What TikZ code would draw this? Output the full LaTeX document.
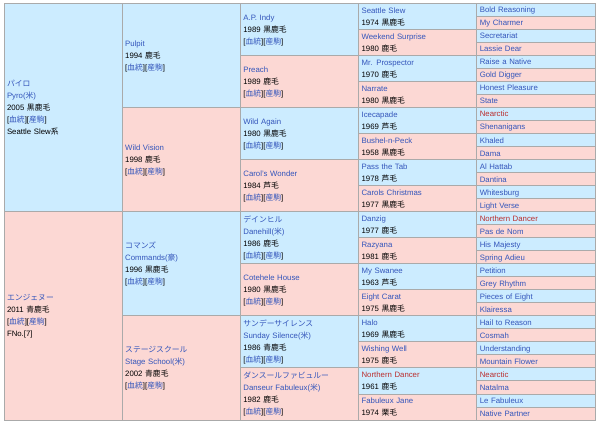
\documentclass[tikz,border=0pt]{standalone}
\usepackage{fontspec}
\setmainfont{Liberation Sans}
\newfontfamily\jpfont{Noto Sans CJK JP}
\usepackage{xcolor}
\usepackage{tikz}
\usetikzlibrary{positioning}

\definecolor{pedblue}{HTML}{CCECFF}
\definecolor{pedpink}{HTML}{FCD8D4}
\definecolor{gridgray}{HTML}{AAAAAA}
\definecolor{linkblue}{HTML}{3355BB}
\definecolor{linkred}{HTML}{BA2D2D}

\newcommand{\lk}[1]{\textcolor{linkblue}{#1}}
\newcommand{\nl}[1]{\textcolor{linkred}{#1}}
\newcommand{\jp}[1]{{\jpfont #1}}
\newcommand{\pedlinks}{[\lk{\jp{血統}}][\lk{\jp{産駒}}]}
\newcommand{\cellstrut}{\rule[-3pt]{0pt}{12pt}}

\begin{document}
\begin{tikzpicture}[
    x=1pt, y=-1pt,
    cell/.style={rectangle, draw=gridgray, line width=0.8pt, inner xsep=3pt, inner ysep=0pt, outer sep=0pt, text width=112.2pt, align=left, font=\fontsize{7.8}{12}\selectfont, execute at begin node=\cellstrut, execute at end node=\cellstrut},
    sire/.style={cell, fill=pedblue},
    dam/.style={cell, fill=pedpink},
    g1/.style={minimum height=208.32pt},
    g2/.style={minimum height=104.16pt},
    g3/.style={minimum height=52.08pt},
    g4/.style={minimum height=26.04pt},
    g5/.style={minimum height=13.02pt}
]
    \useasboundingbox (0,0) rectangle (600,424);
    \fill[white] (0,0) rectangle (600,424);

    % Generation 1
    \node[sire, g1, anchor=north west] (pyro) at (4,3.3) {\lk{\jp{パイロ}}\\\lk{Pyro(\jp{米})}\\2005 \jp{黒鹿毛}\\\pedlinks\\Seattle Slew\jp{系}};
    \node[dam, g1, below=0pt of pyro] (angenue) {\lk{\jp{エンジェヌー}}\\2011 \jp{青鹿毛}\\\pedlinks\\FNo.[7]};

    % Generation 2
    \node[sire, g2, anchor=north west] (pulpit) at (pyro.north east) {\lk{Pulpit}\\1994 \jp{鹿毛}\\\pedlinks};
    \node[dam, g2, below=0pt of pulpit] (wildvision) {\lk{Wild Vision}\\1998 \jp{鹿毛}\\\pedlinks};
    \node[sire, g2, below=0pt of wildvision] (commands) {\lk{\jp{コマンズ}}\\\lk{Commands(\jp{豪})}\\1996 \jp{黒鹿毛}\\\pedlinks};
    \node[dam, g2, below=0pt of commands] (stageschool) {\lk{\jp{ステージスクール}}\\\lk{Stage School(\jp{米})}\\2002 \jp{青鹿毛}\\\pedlinks};

    % Generation 3
    \node[sire, g3, anchor=north west] (apindy) at (pulpit.north east) {\lk{A.P. Indy}\\1989 \jp{黒鹿毛}\\\pedlinks};
    \node[dam, g3, below=0pt of apindy] (preach) {\lk{Preach}\\1989 \jp{鹿毛}\\\pedlinks};
    \node[sire, g3, below=0pt of preach] (wildagain) {\lk{Wild Again}\\1980 \jp{黒鹿毛}\\\pedlinks};
    \node[dam, g3, below=0pt of wildagain] (carolswonder) {\lk{Carol's Wonder}\\1984 \jp{芦毛}\\\pedlinks};
    \node[sire, g3, below=0pt of carolswonder] (danehill) {\lk{\jp{デインヒル}}\\\lk{Danehill(\jp{米})}\\1986 \jp{鹿毛}\\\pedlinks};
    \node[dam, g3, below=0pt of danehill] (cotehele) {\lk{Cotehele House}\\1980 \jp{黒鹿毛}\\\pedlinks};
    \node[sire, g3, below=0pt of cotehele] (sundaysilence) {\lk{\jp{サンデーサイレンス}}\\\lk{Sunday Silence(\jp{米})}\\1986 \jp{青鹿毛}\\\pedlinks};
    \node[dam, g3, below=0pt of sundaysilence] (danseur) {\lk{\jp{ダンスールファビュルー}}\\\lk{Danseur Fabuleux(\jp{米})}\\1982 \jp{鹿毛}\\\pedlinks};

    % Generation 4
    \node[sire, g4, anchor=north west] (seattleslew) at (apindy.north east) {\lk{Seattle Slew}\\1974 \jp{黒鹿毛}};
    \node[dam, g4, below=0pt of seattleslew] (weekendsurprise) {\lk{Weekend Surprise}\\1980 \jp{鹿毛}};
    \node[sire, g4, below=0pt of weekendsurprise] (mrprospector) {\lk{Mr. Prospector}\\1970 \jp{鹿毛}};
    \node[dam, g4, below=0pt of mrprospector] (narrate) {\lk{Narrate}\\1980 \jp{黒鹿毛}};
    \node[sire, g4, below=0pt of narrate] (icecapade) {\lk{Icecapade}\\1969 \jp{芦毛}};
    \node[dam, g4, below=0pt of icecapade] (bushelnpeck) {\lk{Bushel-n-Peck}\\1958 \jp{黒鹿毛}};
    \node[sire, g4, below=0pt of bushelnpeck] (passthetab) {\lk{Pass the Tab}\\1978 \jp{芦毛}};
    \node[dam, g4, below=0pt of passthetab] (carolschristmas) {\lk{Carols Christmas}\\1977 \jp{黒鹿毛}};
    \node[sire, g4, below=0pt of carolschristmas] (danzig) {\lk{Danzig}\\1977 \jp{鹿毛}};
    \node[dam, g4, below=0pt of danzig] (razyana) {\lk{Razyana}\\1981 \jp{鹿毛}};
    \node[sire, g4, below=0pt of razyana] (myswanee) {\lk{My Swanee}\\1963 \jp{芦毛}};
    \node[dam, g4, below=0pt of myswanee] (eightcarat) {\lk{Eight Carat}\\1975 \jp{黒鹿毛}};
    \node[sire, g4, below=0pt of eightcarat] (halo) {\lk{Halo}\\1969 \jp{黒鹿毛}};
    \node[dam, g4, below=0pt of halo] (wishingwell) {\lk{Wishing Well}\\1975 \jp{鹿毛}};
    \node[sire, g4, below=0pt of wishingwell] (northerndancer) {\nl{Northern Dancer}\\1961 \jp{鹿毛}};
    \node[dam, g4, below=0pt of northerndancer] (fabuleuxjane) {\lk{Fabuleux Jane}\\1974 \jp{栗毛}};

    % Generation 5
    \node[sire, g5, anchor=north west] (boldreasoning) at (seattleslew.north east) {\lk{Bold Reasoning}};
    \node[dam, g5, below=0pt of boldreasoning] (mycharmer) {\lk{My Charmer}};
    \node[sire, g5, below=0pt of mycharmer] (secretariat) {\lk{Secretariat}};
    \node[dam, g5, below=0pt of secretariat] (lassiedear) {\lk{Lassie Dear}};
    \node[sire, g5, below=0pt of lassiedear] (raiseanative) {\lk{Raise a Native}};
    \node[dam, g5, below=0pt of raiseanative] (golddigger) {\lk{Gold Digger}};
    \node[sire, g5, below=0pt of golddigger] (honestpleasure) {\lk{Honest Pleasure}};
    \node[dam, g5, below=0pt of honestpleasure] (state) {\lk{State}};
    \node[sire, g5, below=0pt of state] (nearctica) {\nl{Nearctic}};
    \node[dam, g5, below=0pt of nearctica] (shenanigans) {\lk{Shenanigans}};
    \node[sire, g5, below=0pt of shenanigans] (khaled) {\lk{Khaled}};
    \node[dam, g5, below=0pt of khaled] (dama) {\lk{Dama}};
    \node[sire, g5, below=0pt of dama] (alhattab) {\lk{Al Hattab}};
    \node[dam, g5, below=0pt of alhattab] (dantina) {\lk{Dantina}};
    \node[sire, g5, below=0pt of dantina] (whitesburg) {\lk{Whitesburg}};
    \node[dam, g5, below=0pt of whitesburg] (lightverse) {\lk{Light Verse}};
    \node[sire, g5, below=0pt of lightverse] (northerndancera) {\nl{Northern Dancer}};
    \node[dam, g5, below=0pt of northerndancera] (pasdenom) {\lk{Pas de Nom}};
    \node[sire, g5, below=0pt of pasdenom] (hismajesty) {\lk{His Majesty}};
    \node[dam, g5, below=0pt of hismajesty] (springadieu) {\lk{Spring Adieu}};
    \node[sire, g5, below=0pt of springadieu] (petition) {\lk{Petition}};
    \node[dam, g5, below=0pt of petition] (greyrhythm) {\lk{Grey Rhythm}};
    \node[sire, g5, below=0pt of greyrhythm] (piecesofeight) {\lk{Pieces of Eight}};
    \node[dam, g5, below=0pt of piecesofeight] (klairessa) {\lk{Klairessa}};
    \node[sire, g5, below=0pt of klairessa] (hailtoreason) {\lk{Hail to Reason}};
    \node[dam, g5, below=0pt of hailtoreason] (cosmah) {\lk{Cosmah}};
    \node[sire, g5, below=0pt of cosmah] (understanding) {\lk{Understanding}};
    \node[dam, g5, below=0pt of understanding] (mountainflower) {\lk{Mountain Flower}};
    \node[sire, g5, below=0pt of mountainflower] (nearcticb) {\nl{Nearctic}};
    \node[dam, g5, below=0pt of nearcticb] (natalma) {\lk{Natalma}};
    \node[sire, g5, below=0pt of natalma] (lefabuleux) {\lk{Le Fabuleux}};
    \node[dam, g5, below=0pt of lefabuleux] (nativepartner) {\lk{Native Partner}};
\end{tikzpicture}
\end{document}
